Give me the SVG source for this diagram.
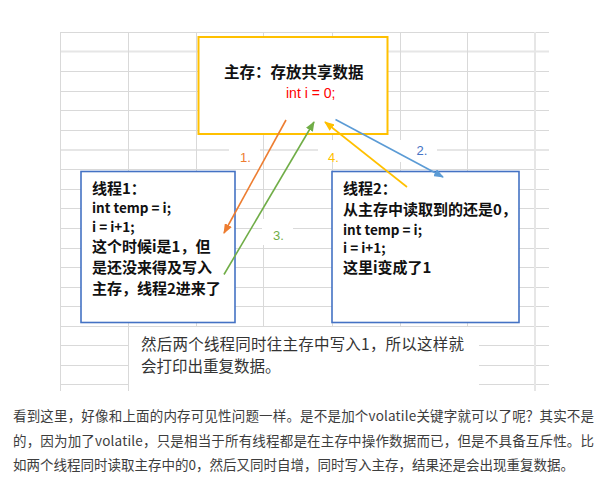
<svg xmlns="http://www.w3.org/2000/svg" width="616" height="484" viewBox="0 0 616 484">
<style>
.grid{stroke:#d9d9d9;stroke-width:1;fill:none}
.gridw{stroke:#e6e6e6;stroke-width:2;fill:none}
.cjk{font-family:"Noto Sans CJK SC","Liberation Sans",sans-serif}
.b{font-weight:bold;fill:#111}
.big{font-size:15px}
.code{font-size:13.5px}
.lbl{font-family:"Liberation Sans","Noto Sans CJK SC",sans-serif;font-size:13px}
.para{font-size:13.5px;fill:#3d3d3d}
.note{font-size:15.5px;fill:#333}
.conn{fill:none;stroke-width:1.6}
</style>
<defs>
<marker id="mo" markerWidth="10" markerHeight="8" refX="9" refY="4" orient="auto" markerUnits="userSpaceOnUse"><path d="M0,0 L10,4 L0,8 z" fill="#ED7D31"/></marker>
<marker id="mg" markerWidth="10" markerHeight="8" refX="9" refY="4" orient="auto" markerUnits="userSpaceOnUse"><path d="M0,0 L10,4 L0,8 z" fill="#70AD47"/></marker>
<marker id="my" markerWidth="10" markerHeight="8" refX="9" refY="4" orient="auto" markerUnits="userSpaceOnUse"><path d="M0,0 L10,4 L0,8 z" fill="#FFC000"/></marker>
<marker id="mb" markerWidth="10" markerHeight="8" refX="9" refY="4" orient="auto" markerUnits="userSpaceOnUse"><path d="M0,0 L10,4 L0,8 z" fill="#5B9BD5"/></marker>
</defs>
<rect width="616" height="484" fill="#fff"/>
<g id="grid">
<path class="grid" d="M60,32.5H549M60,71.5H549M60,91.5H549M60,110.5H549M60,130.5H549M60,169.5H549M60,189.5H549M60,208.5H549M60,228.5H549M60,248.5H549M60,267.5H549M60,287.5H549M60,306.5H549M60,326.5H549M60,345.5H549M60,365.5H549M60,384.5H549"/>
<path class="gridw" d="M60,51.5H549M60,150H549"/>
<path class="grid" d="M60.5,32V391M128.5,32V391M196.5,32V391M263.5,32V391M332.5,32V391M400.5,32V391M467.5,32V391"/>
<path class="gridw" d="M535,32V391"/>
<rect x="229" y="140" width="31" height="23" fill="#fff"/>
<rect x="318" y="140" width="89" height="22" fill="#fff"/>
<rect x="407" y="139" width="30" height="22" fill="#fff"/>
<rect x="262" y="219" width="31" height="26" fill="#fff"/>
</g>
<g id="main-memory">
<rect x="198.5" y="37" width="189" height="97" fill="#fff" stroke="#FFC000" stroke-width="2"/>
<text class="cjk b" x="224" y="77.5" font-size="15.5">主存：存放共享数据</text>
<text x="286" y="97.5" font-family="Liberation Sans, sans-serif" font-size="14" fill="#FF0000">int i = 0;</text>
</g>
<g id="thread1">
<rect x="81" y="171.5" width="154" height="151" fill="#fff" stroke="#4472C4" stroke-width="1.6"/>
<text class="cjk b big" x="92" y="194">线程1：</text>
<text class="cjk b code" x="92" y="213">int temp = i;</text>
<text class="cjk b code" x="92" y="231.5">i = i+1;</text>
<text class="cjk b big" x="92" y="251.5">这个时候i是1，但</text>
<text class="cjk b big" x="92" y="273">是还没来得及写入</text>
<text class="cjk b big" x="92" y="294">主存，线程2进来了</text>
</g>
<g id="thread2">
<rect x="332" y="171.5" width="187" height="151" fill="#fff" stroke="#4472C4" stroke-width="1.6"/>
<text class="cjk b big" x="343" y="194">线程2：</text>
<text class="cjk b big" x="343" y="215">从主存中读取到的还是0，</text>
<text class="cjk b code" x="343" y="234.5">int temp = i;</text>
<text class="cjk b code" x="343" y="253">i = i+1;</text>
<text class="cjk b big" x="343" y="273">这里i变成了1</text>
</g>
<g id="note">
<rect x="129" y="327" width="350" height="65" fill="#fff"/>
<text class="cjk note" x="141" y="349.5" textLength="323" lengthAdjust="spacing">然后两个线程同时往主存中写入1，所以这样就</text>
<text class="cjk note" x="141" y="372">会打印出重复数据。</text>
</g>
<g id="connectors">
<line class="conn" x1="286" y1="120" x2="224" y2="233" stroke="#ED7D31" marker-end="url(#mo)"/>
<line class="conn" x1="224" y1="274.5" x2="314" y2="122" stroke="#70AD47" marker-end="url(#mg)"/>
<line class="conn" x1="407" y1="187" x2="325" y2="122" stroke="#FFC000" marker-end="url(#my)"/>
<line class="conn" x1="335.5" y1="119.5" x2="443" y2="177" stroke="#5B9BD5" marker-end="url(#mb)"/>
</g>
<g id="labels">
<text class="lbl" x="240" y="161.5" fill="#ED7D31">1.</text>
<text class="lbl" x="416.5" y="154.5" fill="#4472C4">2.</text>
<text class="lbl" x="273" y="239.5" fill="#70AD47">3.</text>
<text class="lbl" x="328" y="161.5" fill="#FFC000">4.</text>
</g>
<g id="paragraph" class="cjk para">
<text x="13" y="421" textLength="581" lengthAdjust="spacing">看到这里，好像和上面的内存可见性问题一样。是不是加个volatile关键字就可以了呢？其实不是</text>
<text x="13" y="445.5" textLength="581" lengthAdjust="spacing">的，因为加了volatile，只是相当于所有线程都是在主存中操作数据而已，但是不具备互斥性。比</text>
<text x="13" y="469.5">如两个线程同时读取主存中的0，然后又同时自增，同时写入主存，结果还是会出现重复数据。</text>
</g>
</svg>
